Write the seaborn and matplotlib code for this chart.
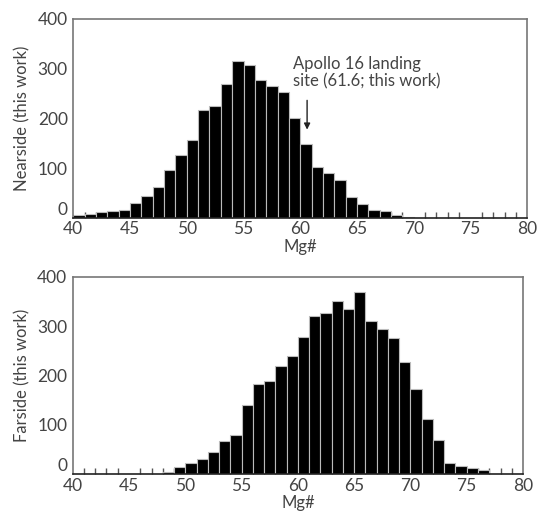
import numpy as np
import matplotlib
matplotlib.use('Agg')
import matplotlib.pyplot as plt
import seaborn as sns
from matplotlib.ticker import MultipleLocator

# Mg# histogram bins (left edges) and counts
bin_left = list(range(40, 80))
nearside_counts = [7, 9, 12, 15, 17, 31, 45, 62, 97, 126,
                   156, 218, 225, 269, 316, 308, 277, 265, 253, 200,
                   149, 102, 90, 76, 42, 28, 17, 15, 7, 2,
                   0, 0, 0, 0, 0, 0, 0, 0, 0, 0]
farside_counts = [0, 0, 0, 0, 0, 0, 0, 0, 5, 15,
                  22, 32, 45, 67, 79, 141, 182, 189, 220, 239,
                  277, 320, 326, 351, 335, 370, 310, 294, 275, 227,
                  173, 112, 70, 22, 17, 13, 8, 0, 0, 0]
panel_labels = ['Nearside (this work)', 'Farside (this work)']
apollo_text = 'Apollo 16 landing\nsite (61.6; this work)'

sns.set_style('white')
plt.rcParams['font.family'] = ['Lato', 'DejaVu Sans']
text_col = '#444444'
spine_col = '#777777'

fig = plt.figure(figsize=(5.37, 5.23), dpi=100)
ax1 = fig.add_axes([0.1365, 0.5832, 0.8454, 0.3805])
ax2 = fig.add_axes([0.1354, 0.0931, 0.8386, 0.3778])

centers = np.array(bin_left) + 0.5
for ax, counts, lab in zip([ax1, ax2], [nearside_counts, farside_counts], panel_labels):
    sns.histplot(x=centers, weights=counts, binwidth=1, binrange=(40, 80), ax=ax,
                 color='black', alpha=1, edgecolor='#bbbbbb', linewidth=0.8)
    ax.set_xlim(40, 80)
    ax.set_ylim(0, 400)
    ax.xaxis.set_major_locator(MultipleLocator(5))
    ax.xaxis.set_minor_locator(MultipleLocator(1))
    ax.set_yticks([0, 100, 200, 300, 400])
    ax.tick_params(axis='x', which='major', direction='in', length=7, width=1,
                   color='#555555', labelsize=12.5, labelcolor=text_col, pad=2.5, top=False)
    ax.tick_params(axis='x', which='minor', direction='in', length=4.5, width=1,
                   color='#555555', top=False, bottom=True)
    ax.tick_params(axis='y', which='major', direction='in', length=3, width=1,
                   color='#555555', labelsize=12.5, labelcolor=text_col, pad=4, right=False)
    ax.set_xlabel('Mg#', fontsize=12, color=text_col, labelpad=1)
    ax.set_ylabel(lab, fontsize=12, color=text_col, labelpad=5)
    for name, spine in ax.spines.items():
        spine.set_visible(True)
        spine.set_color(spine_col)
        spine.set_linewidth(1.2)
    ax.spines['bottom'].set_color('#222222')
    # lift the "0" label so it sits just above the "40"
    ax.yaxis.get_major_ticks()[0].label1.set_verticalalignment('bottom')

ax1.annotate('', xy=(60.6, 172), xytext=(60.6, 242),
             arrowprops=dict(arrowstyle='-|>', color='#222222', lw=1, mutation_scale=9))
ax1.text(59.4, 326, apollo_text, fontsize=12, color=text_col, va='top', ha='left',
         linespacing=1.1)

fig.savefig('out.png', dpi=100)
